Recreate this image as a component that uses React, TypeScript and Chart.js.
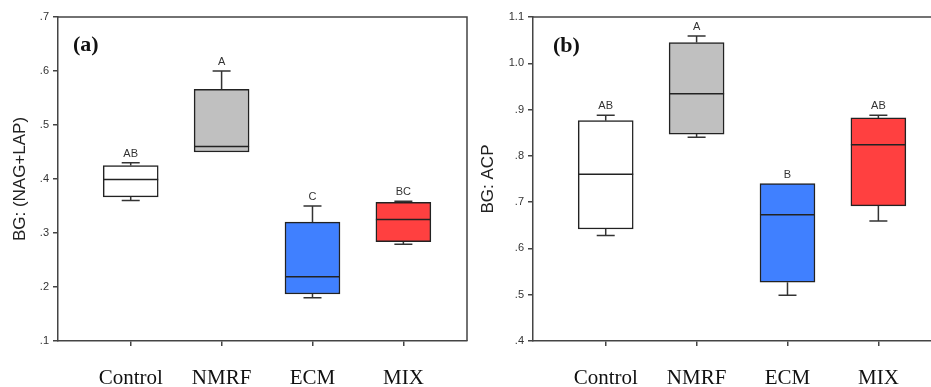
import React, { useEffect, useRef } from 'react';
import { Chart, registerables } from 'chart.js';

Chart.register(...registerables);

const categories = ['Control', 'NMRF', 'ECM', 'MIX'];
const boxColors = ['#ffffff', '#c0c0c0', '#4080ff', '#ff4040'];

// (a) BG: (NAG+LAP)
const nagMin = [0.36, 0.45, 0.18, 0.279];
const nagQ1 = [0.367, 0.45, 0.187, 0.284];
const nagMedian = [0.399, 0.46, 0.219, 0.325];
const nagQ3 = [0.425, 0.566, 0.32, 0.357];
const nagMax = [0.43, 0.6, 0.35, 0.359];
const nagLetters = ['AB', 'A', 'C', 'BC'];

// (b) BG: ACP
const acpMin = [0.628, 0.84, 0.499, 0.659];
const acpQ1 = [0.642, 0.847, 0.527, 0.692];
const acpMedian = [0.76, 0.934, 0.673, 0.824];
const acpQ3 = [0.876, 1.045, 0.74, 0.882];
const acpMax = [0.888, 1.059, 0.74, 0.888];
const acpLetters = ['AB', 'A', 'B', 'AB'];

const AXIS = '#444444';
const INK = '#222222';
const SANS = '"Liberation Sans", Arial, sans-serif';
const SERIF = '"Liberation Serif", "Times New Roman", serif';

type PanelProps = {
  tag: string;
  yTitle: string;
  yMin: number;
  yMax: number;
  mins: number[];
  q1: number[];
  medians: number[];
  q3: number[];
  maxs: number[];
  letters: string[];
  width: number;
  axisWidth: number;
  titleCenter: number;
  padRight: number;
  drawRight: boolean;
  tagDx: number;
  tagDy: number;
};

function boxExtras(p: PanelProps) {
  return {
    id: 'boxExtras',
    afterDatasetsDraw(chart: any) {
      const { ctx, chartArea: a, scales } = chart;
      const y = scales.y;
      const meta = chart.getDatasetMeta(0);
      ctx.save();

      // closing edges of the plot frame
      ctx.strokeStyle = AXIS;
      ctx.lineWidth = 1.5;
      ctx.beginPath();
      ctx.moveTo(a.left, a.top);
      ctx.lineTo(a.right, a.top);
      if (p.drawRight) ctx.lineTo(a.right, a.bottom);
      ctx.stroke();

      meta.data.forEach((bar: any, i: number) => {
        const cx = bar.x;
        const half = bar.width / 2;
        const cap = 9;
        const yMaxPx = y.getPixelForValue(p.maxs[i]);
        const yMinPx = y.getPixelForValue(p.mins[i]);
        const yQ1 = y.getPixelForValue(p.q1[i]);
        const yQ3 = y.getPixelForValue(p.q3[i]);
        const yMed = y.getPixelForValue(p.medians[i]);

        ctx.strokeStyle = '#333333';
        ctx.lineWidth = 1.5;
        ctx.beginPath();
        if (p.maxs[i] > p.q3[i]) {
          ctx.moveTo(cx, yQ3);
          ctx.lineTo(cx, yMaxPx);
          ctx.moveTo(cx - cap, yMaxPx);
          ctx.lineTo(cx + cap, yMaxPx);
        }
        if (p.mins[i] < p.q1[i]) {
          ctx.moveTo(cx, yQ1);
          ctx.lineTo(cx, yMinPx);
          ctx.moveTo(cx - cap, yMinPx);
          ctx.lineTo(cx + cap, yMinPx);
        }
        ctx.stroke();

        // median
        ctx.strokeStyle = INK;
        ctx.beginPath();
        ctx.moveTo(cx - half, yMed);
        ctx.lineTo(cx + half, yMed);
        ctx.stroke();

        // significance letters
        ctx.fillStyle = '#333333';
        ctx.font = `11px ${SANS}`;
        ctx.textAlign = 'center';
        ctx.textBaseline = 'middle';
        ctx.fillText(p.letters[i], cx, yMaxPx - 9);
      });

      // panel tag
      ctx.fillStyle = '#111111';
      ctx.font = `bold 22px ${SERIF}`;
      ctx.textAlign = 'left';
      ctx.textBaseline = 'middle';
      ctx.fillText(p.tag, a.left + p.tagDx, a.top + p.tagDy);
      ctx.restore();
    },
  };
}

const fmtTick = (v: number) => {
  const s = Number(v).toFixed(1);
  return s.startsWith('0') ? s.slice(1) : s;
};

function BoxPanel(p: PanelProps) {
  const ref = useRef<HTMLCanvasElement>(null);

  useEffect(() => {
    const canvas = ref.current;
    if (!canvas) return;
    const chart = new Chart(canvas, {
      type: 'bar',
      data: {
        datasets: [
          {
            data: categories.map((_, i) => ({ x: i + 1, y: [p.q1[i], p.q3[i]] })) as any,
            backgroundColor: boxColors,
            borderColor: INK,
            borderWidth: 1.5,
            borderSkipped: false,
            barThickness: 55,
          },
        ],
      },
      options: {
        responsive: false,
        animation: false,
        devicePixelRatio: 1,
        layout: { padding: { top: 17, left: 0, right: p.padRight, bottom: 0 } },
        plugins: {
          legend: { display: false },
          tooltip: { enabled: false },
        },
        scales: {
          x: {
            type: 'linear',
            min: 0.2,
            max: 4.7,
            offset: false,
            afterBuildTicks: (scale: any) => {
              scale.ticks = categories.map((_, i) => ({ value: i + 1 }));
            },
            afterFit: (scale: any) => {
              scale.height = 46;
            },
            grid: {
              display: true,
              offset: false,
              drawOnChartArea: false,
              drawTicks: true,
              tickLength: 5,
              color: AXIS,
              lineWidth: 1.5,
            },
            border: { display: true, color: AXIS, width: 1.5 },
            ticks: {
              autoSkip: false,
              maxRotation: 0,
              padding: 20,
              color: '#111111',
              font: { family: SERIF, size: 21 },
              callback: (v: any) => categories[Number(v) - 1] ?? '',
            },
          },
          y: {
            type: 'linear',
            min: p.yMin,
            max: p.yMax,
            afterFit: (scale: any) => {
              scale.width = p.axisWidth;
            },
            grid: {
              display: true,
              drawOnChartArea: false,
              drawTicks: true,
              tickLength: 5,
              color: AXIS,
              lineWidth: 1.5,
            },
            border: { display: true, color: AXIS, width: 1.5 },
            ticks: {
              stepSize: 0.1,
              padding: 4,
              color: '#333333',
              font: { family: SANS, size: 11 },
              callback: (v: any) => fmtTick(v),
            },
            title: {
              display: true,
              text: p.yTitle,
              color: '#222222',
              font: { family: SANS, size: 17, lineHeight: 1 },
              padding: { top: p.titleCenter - 8.5, bottom: 0 },
            },
          },
        },
      },
      plugins: [boxExtras(p)],
    });
    return () => chart.destroy();
  }, []);

  return (
    <canvas
      ref={ref}
      width={p.width}
      height={387}
      style={{ display: 'block', width: p.width, height: 387 }}
    />
  );
}

export default function App() {
  return (
    <div
      style={{
        position: 'absolute',
        left: 0,
        top: 0,
        width: 931,
        height: 387,
        overflow: 'hidden',
        background: '#ffffff',
      }}
    >
      <div style={{ position: 'absolute', left: 0, top: 0 }}>
        <BoxPanel
          tag="(a)"
          yTitle="BG: (NAG+LAP)"
          yMin={0.1}
          yMax={0.7}
          mins={nagMin}
          q1={nagQ1}
          medians={nagMedian}
          q3={nagQ3}
          maxs={nagMax}
          letters={nagLetters}
          width={470}
          axisWidth={58}
          titleCenter={20}
          padRight={3}
          drawRight={true}
          tagDx={15}
          tagDy={28}
        />
      </div>
      <div style={{ position: 'absolute', left: 465, top: 0 }}>
        <BoxPanel
          tag="(b)"
          yTitle="BG: ACP"
          yMin={0.4}
          yMax={1.1}
          mins={acpMin}
          q1={acpQ1}
          medians={acpMedian}
          q3={acpQ3}
          maxs={acpMax}
          letters={acpLetters}
          width={480}
          axisWidth={68}
          titleCenter={23}
          padRight={3}
          drawRight={false}
          tagDx={20}
          tagDy={29}
        />
      </div>
    </div>
  );
}
